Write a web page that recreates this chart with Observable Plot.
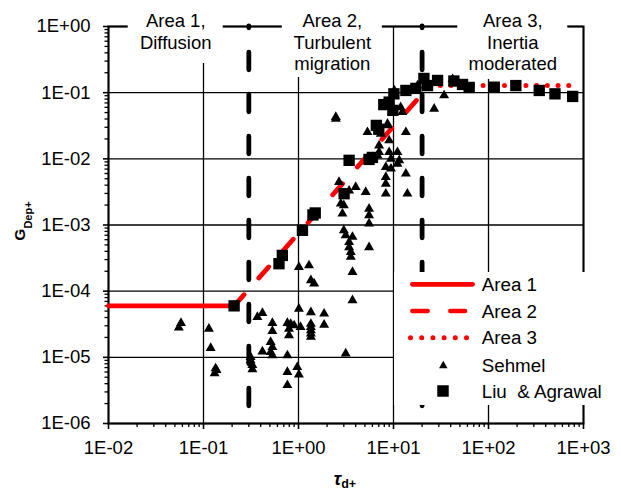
<!DOCTYPE html>
<html><head><meta charset="utf-8">
<script src="https://cdn.jsdelivr.net/npm/d3@7"></script>
<script src="https://cdn.jsdelivr.net/npm/@observablehq/plot@0.6"></script>
<style>body{margin:0;background:#fff}#chart{width:621px;height:494px}</style>
</head><body><div id="chart"></div>
<script>
// ---- data ----
const xTicks = [1e-2, 1e-1, 1e0, 1e1, 1e2, 1e3];
const xTickLabels = ["1E-02", "1E-01", "1E+00", "1E+01", "1E+02", "1E+03"];
const yTicks = [1e-6, 1e-5, 1e-4, 1e-3, 1e-2, 1e-1, 1e0];
const yTickLabels = ["1E-06", "1E-05", "1E-04", "1E-03", "1E-02", "1E-01", "1E+00"];
const areaBounds = [0.3, 20];
const area1X = [0.01, 0.21], area1Y = [6e-5, 6e-5];
const area2X = [0.21, 24], area2Y = [6e-5, 0.128];
const area3X = [24, 700], area3Y = [0.128, 0.128];
const sehmelX = [0.055,0.058,0.114,0.119,0.134,0.131,0.137,0.313,0.313,0.327,0.327,0.369,0.417,0.417,
  0.531,0.531,0.509,0.531,0.509,0.531,0.764,0.794,0.828,0.794,0.764,0.764,0.764,0.90,1.05,0.97,1.01,1.01,1.01,
  1.29,1.35,1.46,1.35,1.35,1.35,1.35,1.35,1.35,1.86,1.86,3.14,3.7,3.7,3.0,3.14,3.7,3.41,3.41,3.55,3.55,5.53,
  2.67,4.0,5.1,3.41,2.79,3.0,2.9,5.53,5.53,5.53,8.3,8.3,8.3,8.3,11.0,9.4,13.5,14.0,2.47,2.47,5.32,7.35,8.65,9.0,
  7.05,7.05,6.78,9.0,9.4,11.0,11.5,13.5,12.4,11.9,16.5,17.9,34.1,26.8,41.9,8.65,10.2];
const sehmelY = [2.8e-5,3.3e-5,2.7e-5,1.38e-5,6.8e-6,5.7e-6,6.4e-6,1.01e-5,9.0e-6,7.6e-6,6.6e-6,4.06e-5,4.67e-5,1.22e-5,
  3.3e-5,2.5e-5,1.7e-5,1.43e-5,1.2e-5,1.07e-5,3.3e-5,2.7e-5,3.2e-5,2.15e-5,1.07e-5,6.0e-6,3.8e-6,3.04e-5,2.87e-5,7.1e-6,5.5e-6,5.4e-5,2.31e-4,
  2.45e-4,1.46e-4,1.3e-4,4.8e-5,3.2e-5,2.87e-5,2.55e-5,2.28e-5,2.03e-5,4.57e-5,3.1e-5,1.14e-5,1.94e-4,7.26e-5,8.3e-4,6.97e-4,6.6e-4,5.5e-4,4.6e-4,3.9e-4,3.3e-4,4.6e-4,
  4.45e-3,3.74e-3,3.14e-3,3.3e-3,2.1e-3,1.98e-3,1.48e-3,1.76e-3,1.4e-3,1.05e-3,7.5e-3,5.3e-3,4.2e-3,2.97e-3,8.4e-3,7.1e-3,5.96e-3,2.97e-3,0.0427,0.040,0.0253,0.0239,0.032,0.019,
  0.0159,0.0126,0.0113,0.0126,0.0100,0.0126,0.0095,0.0253,0.0507,0.060,0.115,0.128,0.0907,0.057,0.16,0.0339,0.108];
const liuX = [0.21,0.623,0.676,1.10,1.42,1.50,3.02,3.41,5.53,6.0,6.6,7.0,7.9,9.0,9.84,10.1,13.5,17.2,20.9,22.8,29.1,43.2,53.3,62.6,115,194,342,501,769];
const liuY = [6.0e-5,2.6e-4,3.47e-4,8.3e-4,1.42e-3,1.52e-3,2.97e-3,9.5e-3,9.8e-3,1.05e-2,0.032,0.028,0.066,0.072,0.054,0.096,0.108,0.116,0.164,0.128,0.153,0.15,0.133,0.12,0.121,0.128,0.108,0.096,0.0877];
const areaLabels = ["Area 1,\nDiffusion", "Area 2,\nTurbulent\nmigration", "Area 3,\nInertia\nmoderated"];
const areaLabelX = [0.051, 2.27, 180];
const legendLabels = ["Area 1", "Area 2", "Area 3", "Sehmel", "Liu  & Agrawal"];

// ---- chart ----
const FONT = "Arial, 'Liberation Sans', sans-serif";
const minorX = []; for (let e = -2; e < 3; e++) for (let m = 2; m < 10; m++) minorX.push(m * Math.pow(10, e));
const minorY = []; for (let e = -6; e < 0; e++) for (let m = 2; m < 10; m++) minorY.push(m * Math.pow(10, e));

const boxLayout = [{hw: 47.5, bottom: 63}, {hw: 50, bottom: 77}, {hw: 55, bottom: 79}];
function labelBoxes(index, scales) {
  const g = d3.create("svg:g");
  areaLabelX.forEach((x, i) => {
    const cx = scales.x(x), b = boxLayout[i];
    g.append("rect").attr("x", cx - b.hw).attr("y", 0).attr("width", 2 * b.hw).attr("height", b.bottom).attr("fill", "#fff");
  });
  return g.node();
}

const plot = Plot.plot({
  width: 621, height: 494,
  marginTop: 26, marginBottom: 71, marginLeft: 108, marginRight: 38,
  style: {fontFamily: FONT, fontSize: "18.5px", color: "#000", background: "#fff", overflow: "visible"},
  x: {type: "log", domain: [1e-2, 1e3]},
  y: {type: "log", domain: [1e-6, 1]},
  marks: [
    Plot.ruleX(xTicks, {stroke: "#000", strokeWidth: 1.3}),
    Plot.ruleY(yTicks, {stroke: "#000", strokeWidth: 1.3}),
    Plot.frame({stroke: "#000", strokeWidth: 2}),
    labelBoxes,
    Plot.axisX(xTicks, {tickSize: 6, tickPadding: 11, tickFormat: d => xTickLabels[xTicks.indexOf(d)], label: null, strokeWidth: 1.6}),
    Plot.axisX(minorX, {tickSize: 4, tickFormat: () => "", label: null, strokeWidth: 1.3}),
    Plot.axisY(yTicks, {tickSize: 5, tickPadding: 13, tickFormat: d => yTickLabels[yTicks.indexOf(d)], label: null, strokeWidth: 1.6}),
    Plot.axisY(minorY, {tickSize: 3.5, tickFormat: () => "", label: null, strokeWidth: 1.3}),
    Plot.ruleX(areaBounds, {y1: 1, y2: 1e-6, stroke: "#000", strokeWidth: 4.8, strokeDasharray: "17.5,24.5", strokeDashoffset: 15.75, strokeLinecap: "round"}),
    Plot.line(area1X, {x: area1X, y: area1Y, stroke: "#ff0000", strokeWidth: 4.7}),
    Plot.line(area2X, {x: area2X, y: area2Y, stroke: "#ff0000", strokeWidth: 4.7, strokeDasharray: "15,22.1", strokeLinecap: "round"}),
    Plot.line(area3X, {x: area3X, y: area3Y, stroke: "#ff0000", strokeWidth: 5, strokeDasharray: "0,10.7", strokeLinecap: "round"}),
    Plot.dot(sehmelX, {x: sehmelX, y: sehmelY, symbol: "triangle", r: 3.7, fill: "#000", stroke: "none"}),
    Plot.dot(liuX, {x: liuX, y: liuY, symbol: "square", r: 6.4, fill: "#000", stroke: "none"}),
    Plot.text(areaLabels, {x: areaLabelX, frameAnchor: "top", dy: -15, lineAnchor: "top", lineHeight: 1.17, fontSize: 18.5, fill: "#000", textAnchor: "middle"})
  ]
});
document.getElementById("chart").appendChild(plot);

const svg = d3.select(plot);
// axis titles
const yt = svg.append("text").attr("transform", "translate(24.5,221) rotate(-90)").attr("text-anchor", "middle")
  .attr("font-family", FONT).attr("font-weight", "bold").attr("fill", "#000");
yt.append("tspan").attr("font-size", 15.5).text("G");
yt.append("tspan").attr("font-size", 11).attr("dy", 7).text("Dep+");
const xt = svg.append("text").attr("transform", "translate(345,485)").attr("text-anchor", "middle")
  .attr("font-family", FONT).attr("font-weight", "bold").attr("fill", "#000");
xt.append("tspan").attr("font-size", 18).attr("font-style", "italic").text("τ");
xt.append("tspan").attr("font-size", 12.5).attr("dy", 3).text("d+");

// legend
const lg = svg.append("g").attr("font-family", FONT).attr("font-size", 18.8).attr("fill", "#000").attr("text-anchor", "start");
lg.append("rect").attr("x", 394).attr("y", 272).attr("width", 219).attr("height", 133).attr("fill", "#fff");
const rowsY = [284.3, 311, 337.7, 365.7, 391];
lg.append("line").attr("x1", 412.4).attr("x2", 472.6).attr("y1", rowsY[0]).attr("y2", rowsY[0])
  .attr("stroke", "#ff0000").attr("stroke-width", 4.7).attr("stroke-linecap", "round");
lg.append("line").attr("x1", 412.4).attr("x2", 465).attr("y1", rowsY[1]).attr("y2", rowsY[1])
  .attr("stroke", "#ff0000").attr("stroke-width", 4.7).attr("stroke-linecap", "round").attr("stroke-dasharray", "15.2,22.8");
lg.append("line").attr("x1", 410.5).attr("x2", 467).attr("y1", rowsY[2]).attr("y2", rowsY[2])
  .attr("stroke", "#ff0000").attr("stroke-width", 5).attr("stroke-linecap", "round").attr("stroke-dasharray", "0,11.2");
lg.append("path").attr("transform", `translate(443.3,${rowsY[3]})`).attr("d", d3.symbol(d3.symbolTriangle, 31.2)()).attr("fill", "#000");
lg.append("path").attr("transform", `translate(443,${rowsY[4]})`).attr("d", d3.symbol(d3.symbolSquare, 132)()).attr("fill", "#000");
legendLabels.forEach((t, i) => {
  lg.append("text").attr("x", 481.7).attr("y", rowsY[i] + 6.6).attr("text-anchor", "start").attr("xml:space", "preserve")
    .style("white-space", "pre").text(t);
});
</script>
</body></html>
